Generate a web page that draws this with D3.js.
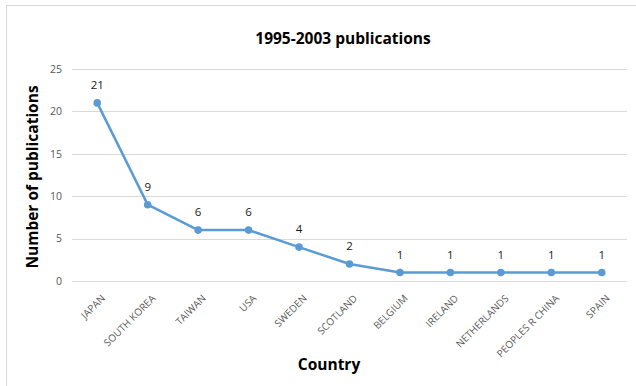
<!DOCTYPE html>
<html>
<head>
<meta charset="utf-8">
<script src="https://cdn.jsdelivr.net/npm/d3@7"></script>
<style>
  body { margin: 0; background: #fff; }
  svg { display: block; font-family: "Open Sans", "Liberation Sans", sans-serif; }
</style>
</head>
<body>
<svg id="chart" width="636" height="386"></svg>
<script>
const countries = ["JAPAN", "SOUTH KOREA", "TAIWAN", "USA", "SWEDEN", "SCOTLAND",
  "BELGIUM", "IRELAND", "NETHERLANDS", "PEOPLES R CHINA", "SPAIN"];
const publications = [21, 9, 6, 6, 4, 2, 1, 1, 1, 1, 1];
const yTicks = [0, 5, 10, 15, 20, 25];

const FONT = "'Open Sans', 'Liberation Sans', sans-serif";
const svg = d3.select("#chart");
const margin = { left: 72, right: 9, top: 69, bottom: 105 };
const W = 636, H = 386;

// chart frame
svg.append("rect")
  .attr("x", 6.5).attr("y", 5.5)
  .attr("width", W - 6).attr("height", H - 5)
  .attr("fill", "#fff").attr("stroke", "#d9d9d9").attr("stroke-width", 1);

const x = d3.scalePoint().domain(countries)
  .range([margin.left, W - margin.right]).padding(0.5);
const y = d3.scaleLinear().domain([0, 25]).range([H - margin.bottom, margin.top]);

// gridlines
svg.append("g").selectAll("line").data(yTicks).join("line")
  .attr("x1", margin.left).attr("x2", W - margin.right)
  .attr("y1", d => Math.round(y(d)) + 0.5).attr("y2", d => Math.round(y(d)) + 0.5)
  .attr("stroke", "#d9d9d9").attr("stroke-width", 1);

// y axis tick labels
const yAxis = svg.append("g")
  .attr("transform", `translate(${margin.left},0)`)
  .call(d3.axisLeft(y).tickValues(yTicks).tickSize(0).tickPadding(10));
yAxis.select(".domain").remove();
yAxis.selectAll("text")
  .attr("fill", "#595959").style("font-size", "10.5px")
  .style("font-family", FONT);

// x axis category labels, rotated
const xAxis = svg.append("g")
  .attr("transform", `translate(0,${y(0)})`)
  .call(d3.axisBottom(x).tickSize(0).tickPadding(0));
xAxis.select(".domain").remove();
xAxis.selectAll("text")
  .attr("fill", "#595959").style("font-size", "10px")
  .style("font-family", FONT)
  .attr("text-anchor", "end")
  .attr("dy", "0")
  .attr("transform", "translate(8,18) rotate(-45)");

// series line
const line = d3.line()
  .x((d, i) => x(countries[i]))
  .y(d => y(d));
svg.append("path")
  .datum(publications)
  .attr("d", line)
  .attr("fill", "none")
  .attr("stroke", "#5b9bd5")
  .attr("stroke-width", 2.5)
  .attr("stroke-linejoin", "round");

// markers
svg.append("g").selectAll("circle").data(publications).join("circle")
  .attr("cx", (d, i) => x(countries[i]))
  .attr("cy", d => y(d))
  .attr("r", 3.8)
  .attr("fill", "#5b9bd5");

// value labels
svg.append("g").selectAll("text").data(publications).join("text")
  .attr("x", (d, i) => x(countries[i]))
  .attr("y", d => y(d) - 14)
  .attr("text-anchor", "middle")
  .attr("fill", "#1a1a1a")
  .style("font-size", "11.5px")
  .text(d => d);

// title
svg.append("text")
  .attr("x", 343).attr("y", 44)
  .attr("text-anchor", "middle")
  .style("font-size", "15.5px").style("font-weight", "bold")
  .attr("fill", "#000")
  .text("1995-2003 publications");

// axis titles
svg.append("text")
  .attr("transform", `translate(38,177) rotate(-90)`)
  .attr("text-anchor", "middle")
  .style("font-size", "15.5px").style("font-weight", "bold")
  .attr("fill", "#000")
  .text("Number of publications");

svg.append("text")
  .attr("x", 329).attr("y", 370)
  .attr("text-anchor", "middle")
  .style("font-size", "15.5px").style("font-weight", "bold")
  .attr("fill", "#000")
  .text("Country");
</script>
</body>
</html>
